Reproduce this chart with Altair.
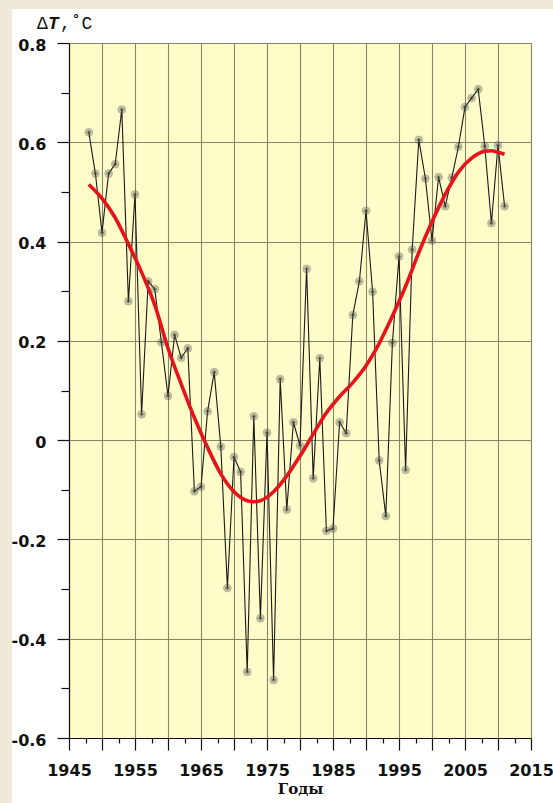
import altair as alt
import pandas as pd

# Annual temperature anomaly, degrees C
years = list(range(1948, 2012))
anomaly = [
    0.620, 0.537, 0.418, 0.537, 0.556, 0.666, 0.280, 0.495, 0.052, 0.320,
    0.304, 0.197, 0.089, 0.212, 0.166, 0.185, -0.103, -0.094, 0.058, 0.137,
    -0.013, -0.298, -0.034, -0.064, -0.467, 0.048, -0.359, 0.015, -0.483, 0.123,
    -0.140, 0.036, -0.011, 0.345, -0.077, 0.165, -0.183, -0.178, 0.036, 0.014,
    0.252, 0.320, 0.462, 0.299, -0.041, -0.153, 0.196, 0.370, -0.060, 0.384,
    0.605, 0.527, 0.402, 0.530, 0.471, 0.529, 0.591, 0.671, 0.689, 0.707,
    0.592, 0.437, 0.594, 0.471,
]

# Smoothed trend
trend_years = [1948, 1950, 1952, 1954, 1956, 1958, 1960, 1962, 1964, 1966,
               1968, 1970, 1972, 1973, 1974, 1976, 1978, 1980, 1982, 1984,
               1986, 1988, 1990, 1992, 1994, 1996, 1998, 2000, 2002, 2004,
               2006, 2008, 2009, 2010, 2011]
trend_values = [0.515, 0.487, 0.448, 0.395, 0.338, 0.272, 0.185, 0.113, 0.045, -0.015,
                -0.068, -0.104, -0.122, -0.124, -0.122, -0.104, -0.072, -0.032, 0.012, 0.055,
                0.088, 0.116, 0.150, 0.195, 0.250, 0.310, 0.378, 0.440, 0.495, 0.540,
                0.568, 0.582, 0.583, 0.580, 0.576]

obs = pd.DataFrame({"year": years, "dT": anomaly})
trend = pd.DataFrame({"year": trend_years, "dT": trend_values})

x_scale = alt.Scale(domain=[1945, 2015], nice=False, zero=False)
y_scale = alt.Scale(domain=[-0.6, 0.8], nice=False, zero=False)

x_ticks = [1945 + 2.5 * i for i in range(29)]
y_ticks = [round(-0.6 + 0.1 * i, 1) for i in range(15)]

GRID = "#85856a"
LABEL_FONT = "DejaVu Sans"
MONO = "Liberation Mono"
SERIF = "DejaVu Serif"

x_axis = alt.Axis(
    values=x_ticks,
    title="Годы",
    titleFont=SERIF,
    titleFontSize=15,
    titleFontWeight="bold",
    titleColor="#111",
    titlePadding=3,
    labelExpr="(datum.value - 1945) % 10 == 0 ? '' + datum.value : ''",
    labelFont=LABEL_FONT,
    labelFontSize=16,
    labelFontWeight="bold",
    labelColor="#111",
    labelFlush=False,
    labelOverlap=False,
    labelPadding=12,
    tickSize={"condition": {"test": "datum.value % 5 == 0", "value": 12}, "value": 5},
    tickColor="#111",
    tickWidth=1.2,
    domainColor="#111",
    domainWidth=1.2,
    grid=True,
    gridColor=GRID,
    gridWidth=1.1,
    gridOpacity={"condition": {"test": "datum.value % 5 == 0", "value": 1}, "value": 0},
)

y_axis = alt.Axis(
    values=y_ticks,
    title="",
    labelExpr="round(datum.value * 10) % 2 == 0 ? '' + round(datum.value * 10) / 10 : ''",
    labelFont=LABEL_FONT,
    labelFontSize=16,
    labelFontWeight="bold",
    labelColor="#111",
    labelFlush=False,
    labelOverlap=False,
    labelPadding=11,
    labelOffset=2,
    tickSize={"condition": {"test": "round(datum.value * 10) % 2 == 0", "value": 12}, "value": 8},
    tickColor="#111",
    tickWidth=1.2,
    domainColor="#111",
    domainWidth=1.2,
    grid=True,
    gridColor=GRID,
    gridWidth=1.1,
    gridOpacity={"condition": {"test": "round(datum.value * 10) % 2 == 0", "value": 1}, "value": 0},
)

X = alt.X("year:Q", scale=x_scale, axis=x_axis)
Y = alt.Y("dT:Q", scale=y_scale, axis=y_axis)

base = alt.Chart(obs)

series_line = base.mark_line(color="#1a1a1a", strokeWidth=1.1).encode(x=X, y=Y)

series_points = base.mark_point(
    shape="circle", size=60, filled=True, color="#66665a", opacity=0.38,
    stroke="#333", strokeWidth=0.8,
).encode(x=X, y=Y)

series_dots = base.mark_point(
    shape="cross", size=14, filled=True, color="#333", opacity=0.6
).encode(x=X, y=Y)

trend_line = alt.Chart(trend).mark_line(
    color="#e8121a", strokeWidth=3.6, interpolate="monotone"
).encode(x=X, y=Y)

one = pd.DataFrame({"k": [0]})

# Beige frame strips along the left and top edges
frame_left = alt.Chart(one).mark_rect(color="#efe9d7").encode(
    x=alt.value(-69), x2=alt.value(-57), y=alt.value(-43), y2=alt.value(760)
)
frame_top = alt.Chart(one).mark_rect(color="#efe9d7").encode(
    x=alt.value(-69), x2=alt.value(484), y=alt.value(-43), y2=alt.value(-34)
)

# Y-axis caption: ΔT, °C with italic T
cap_delta = alt.Chart(one).mark_text(
    text="Δ", font=MONO, fontSize=18, align="left", baseline="middle", color="#111"
).encode(x=alt.value(-32), y=alt.value(-19))
cap_t = alt.Chart(one).mark_text(
    text="T", font=MONO, fontSize=18, fontStyle="italic", fontWeight="bold",
    align="left", baseline="middle", color="#111"
).encode(x=alt.value(-21), y=alt.value(-19))
cap_unit = alt.Chart(one).mark_text(
    text=",˚C", font=MONO, fontSize=18, align="left", baseline="middle", color="#111"
).encode(x=alt.value(-9), y=alt.value(-19))

chart = alt.layer(
    series_line, series_points, series_dots, trend_line,
    frame_left, frame_top,
    cap_delta, cap_t, cap_unit,
).properties(
    width=462,
    height=695,
    autosize=alt.AutoSizeParams(type="none"),
    padding={"left": 69, "top": 43, "right": 22, "bottom": 65},
    background="white",
).configure_view(
    fill="#fefdca",
    stroke=None,
)

chart.save("out.html", embed_options={"renderer": "svg", "actions": False})
